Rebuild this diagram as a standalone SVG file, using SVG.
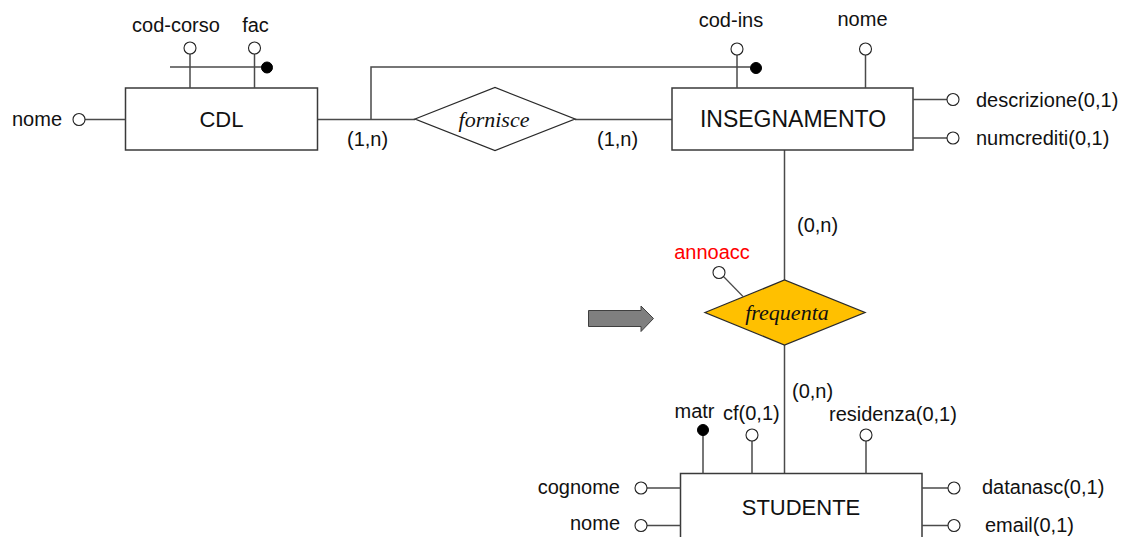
<svg xmlns="http://www.w3.org/2000/svg" width="1125" height="537" viewBox="0 0 1125 537">
  <style>
    .ent { fill: #ffffff; stroke: #3a3a3a; stroke-width: 1.5; }
    .rel { fill: #ffffff; stroke: #2a2a2a; stroke-width: 1.3; }
    .rel-hl { fill: #ffc000; stroke: #2a2a2a; stroke-width: 1.3; }
    .ln { fill: none; stroke: #4a4a4a; stroke-width: 1.5; }
    .att { fill: #ffffff; stroke: #222222; stroke-width: 1.1; }
    .key { fill: #000000; stroke: #000000; stroke-width: 1; }
    .t { font-family: "Liberation Sans", Arial, sans-serif; font-size: 20px; fill: #111111; }
    .tn { font-family: "Liberation Sans", Arial, sans-serif; font-size: 23px; fill: #111111; text-anchor: middle; }
    .tr { font-family: "Liberation Serif", "Times New Roman", serif; font-style: italic; font-size: 22px; fill: #111111; text-anchor: middle; }
    .red { fill: #ff0000; }
  </style>

  <!-- Connectors between entities and relationships -->
  <g id="connectors">
    <line class="ln" x1="318" y1="119.5" x2="415" y2="119.5"/>
    <line class="ln" x1="575" y1="119.5" x2="672" y2="119.5"/>
    <polyline class="ln" points="371,119.5 371,67 750,67"/>
    <line class="ln" x1="784.5" y1="150" x2="784.5" y2="280"/>
    <line class="ln" x1="784.5" y1="345" x2="784.5" y2="473"/>
    <text class="t" x="347" y="146">(1,n)</text>
    <text class="t" x="597" y="146">(1,n)</text>
    <text class="t" x="797" y="232">(0,n)</text>
    <text class="t" x="792" y="398">(0,n)</text>
  </g>

  <!-- Entity CDL -->
  <g id="cdl">
    <rect class="ent" x="125.5" y="88" width="192" height="62"/>
    <text class="tn" x="221.5" y="127" style="font-size:22px">CDL</text>
    <!-- nome -->
    <line class="ln" x1="85" y1="119.5" x2="125.5" y2="119.5"/>
    <circle class="att" cx="79" cy="119.5" r="6"/>
    <text class="t" x="62" y="126" text-anchor="end">nome</text>
    <!-- identifier: cod-corso + fac -->
    <line class="ln" x1="190" y1="54" x2="190" y2="88"/>
    <circle class="att" cx="190" cy="48" r="6"/>
    <text class="t" x="176" y="32" text-anchor="middle">cod-corso</text>
    <line class="ln" x1="254.5" y1="54" x2="254.5" y2="88"/>
    <circle class="att" cx="254.5" cy="48" r="6"/>
    <text class="t" x="255.5" y="32" text-anchor="middle">fac</text>
    <line class="ln" x1="170" y1="67" x2="263" y2="67"/>
    <circle class="key" cx="267" cy="67.5" r="5.5"/>
  </g>

  <!-- Relationship fornisce -->
  <g id="fornisce">
    <polygon class="rel" points="415,119 495,87.5 575,119 495,150.5"/>
    <text class="tr" x="494" y="127">fornisce</text>
  </g>

  <!-- Entity INSEGNAMENTO -->
  <g id="insegnamento">
    <rect class="ent" x="672" y="88" width="241" height="62"/>
    <text class="tn" x="793" y="127">INSEGNAMENTO</text>
    <!-- cod-ins (external identifier with CDL) -->
    <line class="ln" x1="737" y1="55" x2="737" y2="88"/>
    <circle class="att" cx="737" cy="49" r="6"/>
    <text class="t" x="731" y="27" text-anchor="middle">cod-ins</text>
    <circle class="key" cx="756" cy="68" r="5.5"/>
    <!-- nome -->
    <line class="ln" x1="865.5" y1="55" x2="865.5" y2="88"/>
    <circle class="att" cx="865.5" cy="49" r="6"/>
    <text class="t" x="862.5" y="26" text-anchor="middle">nome</text>
    <!-- descrizione, numcrediti -->
    <line class="ln" x1="913" y1="99.5" x2="947" y2="99.5"/>
    <circle class="att" cx="953" cy="99.5" r="6"/>
    <text class="t" x="976" y="107">descrizione(0,1)</text>
    <line class="ln" x1="913" y1="138" x2="947" y2="138"/>
    <circle class="att" cx="953" cy="138" r="6"/>
    <text class="t" x="976" y="145">numcrediti(0,1)</text>
  </g>

  <!-- Relationship frequenta with attribute annoacc -->
  <g id="frequenta">
    <polygon class="rel-hl" points="705,312.5 784.5,280 865,312.5 784.5,345"/>
    <text class="tr" x="787" y="319.5">frequenta</text>
    <line class="ln" x1="723.5" y1="276.5" x2="743" y2="296.5" style="stroke-width:1.2"/>
    <circle class="att" cx="719" cy="272.5" r="6"/>
    <text class="t red" x="712" y="258.5" text-anchor="middle">annoacc</text>
  </g>

  <!-- Pointer arrow -->
  <g id="pointer">
    <polygon points="588.5,310.5 641,310.5 641,306 653.5,318.5 641,331.5 641,326.5 588.5,326.5" fill="#7f7f7f" stroke="#3f3f3f" stroke-width="1"/>
  </g>

  <!-- Entity STUDENTE -->
  <g id="studente">
    <rect class="ent" x="680.5" y="473.5" width="241.5" height="90"/>
    <text class="tn" x="801" y="515" style="font-size:22px">STUDENTE</text>
    <!-- matr (identifier) -->
    <line class="ln" x1="703" y1="434" x2="703" y2="473.5"/>
    <circle class="key" cx="703" cy="430" r="5.5"/>
    <text class="t" x="694.5" y="418" text-anchor="middle">matr</text>
    <!-- cf -->
    <line class="ln" x1="752" y1="441" x2="752" y2="473.5"/>
    <circle class="att" cx="752" cy="435" r="6"/>
    <text class="t" x="723" y="420">cf(0,1)</text>
    <!-- residenza -->
    <line class="ln" x1="866" y1="441" x2="866" y2="473.5"/>
    <circle class="att" cx="866" cy="435" r="6"/>
    <text class="t" x="829" y="421">residenza(0,1)</text>
    <!-- cognome, nome -->
    <line class="ln" x1="647" y1="488" x2="680.5" y2="488"/>
    <circle class="att" cx="641" cy="488" r="6"/>
    <text class="t" x="620" y="494" text-anchor="end">cognome</text>
    <line class="ln" x1="647" y1="525.5" x2="680.5" y2="525.5"/>
    <circle class="att" cx="641" cy="525.5" r="6"/>
    <text class="t" x="620" y="530" text-anchor="end">nome</text>
    <!-- datanasc, email -->
    <line class="ln" x1="922" y1="488" x2="948" y2="488"/>
    <circle class="att" cx="954" cy="488" r="6"/>
    <text class="t" x="982" y="494">datanasc(0,1)</text>
    <line class="ln" x1="922" y1="525.5" x2="948" y2="525.5"/>
    <circle class="att" cx="954" cy="525.5" r="6"/>
    <text class="t" x="985" y="532">email(0,1)</text>
  </g>
</svg>
